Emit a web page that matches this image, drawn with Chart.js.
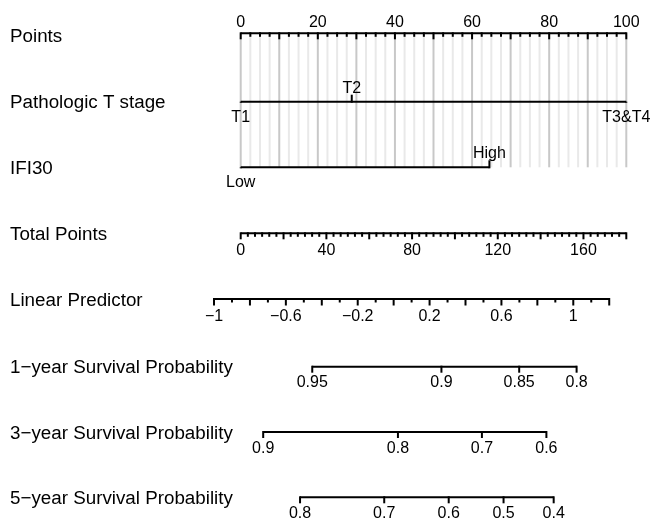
<!DOCTYPE html>
<html>
<head>
<meta charset="utf-8">
<script src="https://cdn.jsdelivr.net/npm/chart.js@4"></script>
<style>
  html, body { margin: 0; padding: 0; background: #fff; }
  #wrap { width: 650px; height: 523px; position: relative; }
</style>
</head>
<body>
<div id="wrap"><canvas id="nomogram"></canvas></div>
<script>
// row titles, top to bottom
const rowNames = ['Points', 'Pathologic T stage', 'IFI30', 'Total Points', 'Linear Predictor',
  '1\u2212year Survival Probability', '3\u2212year Survival Probability', '5\u2212year Survival Probability'];

// predictor levels and their points
const tStageLevels = ['T1', 'T2', 'T3&T4'];
const tStagePoints = [0, 28.8, 100];
const ifiLevels = ['Low', 'High'];
const ifiPoints = [0, 64.5];

// points scale
const pointsMax = 100;
const pointsLabels = [0, 20, 40, 60, 80, 100];

// total points scale
const totalMax = 180;
const totalLabels = [0, 40, 80, 120, 160];

// linear predictor scale
const lpMin = -1, lpMax = 1.2;
const lpLabels = [-1, -0.6, -0.2, 0.2, 0.6, 1];
const lpAtZero = -0.8514;      // linear predictor at 0 total points
const lpPerPoint = 0.011925;   // change per total point

// survival probabilities and where they fall on the total points scale
const surv1Labels = ['0.95', '0.9', '0.85', '0.8'];
const surv1At = [33.4, 93.7, 130.0, 156.8];
const surv3Labels = ['0.9', '0.8', '0.7', '0.6'];
const surv3At = [10.5, 73.4, 112.6, 142.7];
const surv5Labels = ['0.8', '0.7', '0.6', '0.5', '0.4'];
const surv5At = [27.7, 67.0, 97.1, 122.7, 146.1];

// layout: vertical position of each row (px from top)
const rowY = [33.3, 101.7, 167.3, 233.3, 299, 366.7, 432, 497.3];
const FONT = "'Liberation Sans', Arial, Helvetica, sans-serif";

const perPoint = totalMax / pointsMax;
const fromPoints = p => p * perPoint;
const fromLp = lp => (lp - lpAtZero) / lpPerPoint;
const fmtLp = v => (v < 0 ? '\u2212' : '') + String(Math.abs(v));

function seg(a, b, y) {
  return {
    data: [{ x: a, y: y }, { x: b, y: y }],
    showLine: true, borderColor: '#000', borderWidth: 2,
    pointRadius: 0, borderCapStyle: 'butt', clip: false
  };
}

const datasets = [
  seg(0, fromPoints(pointsMax), rowY[0]),
  seg(fromPoints(tStagePoints[0]), fromPoints(tStagePoints[tStagePoints.length - 1]), rowY[1]),
  seg(fromPoints(ifiPoints[0]), fromPoints(ifiPoints[ifiPoints.length - 1]), rowY[2]),
  seg(0, totalMax, rowY[3]),
  seg(fromLp(lpMin), fromLp(lpMax), rowY[4]),
  seg(surv1At[0], surv1At[surv1At.length - 1], rowY[5]),
  seg(surv3At[0], surv3At[surv3At.length - 1], rowY[6]),
  seg(surv5At[0], surv5At[surv5At.length - 1], rowY[7])
];

const nomogramPlugin = {
  id: 'nomogram',
  beforeDatasetsDraw(chart) {
    const { ctx, scales: { x, y } } = chart;
    // vertical reference grid under the predictor rows
    ctx.save();
    for (let p = 0; p <= pointsMax + 1e-9; p += 2.5) {
      const px = x.getPixelForValue(fromPoints(p));
      ctx.strokeStyle = p % 10 === 0 ? '#c8c8c8' : '#e9e9e9';
      ctx.lineWidth = 2;
      ctx.beginPath();
      ctx.moveTo(px, y.getPixelForValue(rowY[0]));
      ctx.lineTo(px, y.getPixelForValue(rowY[2]));
      ctx.stroke();
    }
    ctx.restore();
  },
  afterDatasetsDraw(chart) {
    const { ctx, scales: { x, y } } = chart;
    const X = v => x.getPixelForValue(v);
    const Y = v => y.getPixelForValue(v);
    ctx.save();
    ctx.strokeStyle = '#000';
    ctx.fillStyle = '#000';
    ctx.lineWidth = 2;
    ctx.lineCap = 'butt';

    const tick = (v, row, len) => {
      ctx.beginPath();
      ctx.moveTo(X(v), Y(rowY[row]) - 1);
      ctx.lineTo(X(v), Y(rowY[row]) + len);
      ctx.stroke();
    };
    const text = (s, v, yy) => {
      ctx.fillText(s, X(v), yy);
    };

    // row titles
    ctx.font = '18.8px ' + FONT;
    ctx.textAlign = 'left';
    ctx.textBaseline = 'alphabetic';
    rowNames.forEach((name, i) => {
      ctx.fillText(name, 10, Y(rowY[i]) + (i === 0 ? 9 : 6.5));
    });

    ctx.font = '16px ' + FONT;
    ctx.textAlign = 'center';

    // points
    for (let p = 0; p <= pointsMax + 1e-9; p += 2.5) {
      tick(fromPoints(p), 0, p % 10 === 0 ? 6 : 3.5);
    }
    pointsLabels.forEach(p => text(String(p), fromPoints(p), Y(rowY[0]) - 6.5));

    // pathologic T stage
    tStageLevels.forEach((lev, i) => {
      const v = fromPoints(tStagePoints[i]);
      const above = i % 2 === 1;
      ctx.beginPath();
      ctx.moveTo(X(v), Y(rowY[1]) + 1);
      ctx.lineTo(X(v), Y(rowY[1]) + (above ? -7 : 0));
      ctx.stroke();
      text(lev, v, Y(rowY[1]) + (above ? -9 : 20));
    });

    // IFI30
    ifiLevels.forEach((lev, i) => {
      const v = fromPoints(ifiPoints[i]);
      const above = i % 2 === 1;
      ctx.beginPath();
      ctx.moveTo(X(v), Y(rowY[2]) + 1);
      ctx.lineTo(X(v), Y(rowY[2]) + (above ? -7 : 0));
      ctx.stroke();
      text(lev, v, Y(rowY[2]) + (above ? -9 : 20));
    });

    // total points
    for (let k = 0; k <= 54; k++) {
      const v = k * totalMax / 54;
      tick(v, 3, k % 6 === 0 ? 6 : 3.5);
    }
    totalLabels.forEach(v => text(String(v), v, Y(rowY[3]) + 21.5));

    // linear predictor
    for (let k = 0; k <= 22; k++) {
      const v = lpMin + k * 0.1;
      tick(fromLp(v), 4, k % 2 === 0 ? 6.5 : 3.5);
    }
    lpLabels.forEach(v => text(fmtLp(v), fromLp(v), Y(rowY[4]) + 22));

    // survival probabilities
    [[surv1Labels, surv1At, 5], [surv3Labels, surv3At, 6], [surv5Labels, surv5At, 7]].forEach(([labs, at, row]) => {
      at.forEach((v, i) => {
        tick(v, row, 6);
        text(labs[i], v, Y(rowY[row]) + 20.5);
      });
    });
    ctx.restore();
  }
};

new Chart(document.getElementById('nomogram'), {
  type: 'scatter',
  data: { datasets: datasets },
  options: {
    responsive: true,
    maintainAspectRatio: false,
    animation: false,
    layout: { padding: { left: 240.7, right: 23.7, top: 0, bottom: 0 } },
    plugins: { legend: { display: false }, tooltip: { enabled: false } },
    scales: {
      x: { type: 'linear', min: 0, max: totalMax, display: false },
      y: { type: 'linear', min: 0, max: 523, reverse: true, display: false }
    }
  },
  plugins: [nomogramPlugin]
});
</script>
</body>
</html>
